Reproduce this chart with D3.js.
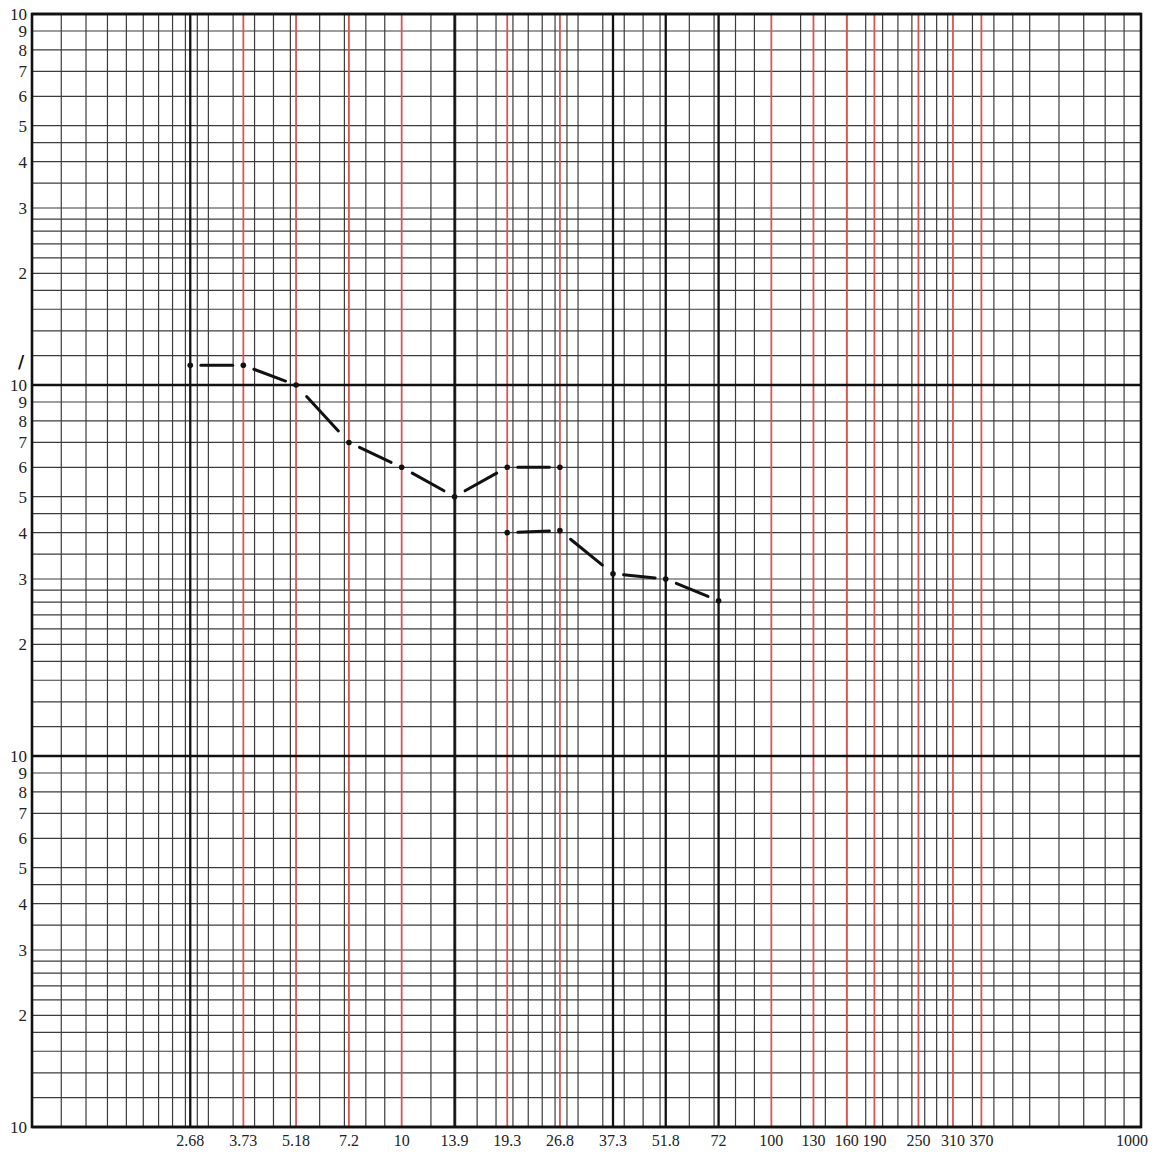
<!DOCTYPE html>
<html>
<head>
<meta charset="utf-8">
<script src="https://cdn.jsdelivr.net/npm/d3@7"></script>
<style>
  body { margin: 0; background: #fff; }
  text { font-family: "Liberation Serif", "DejaVu Serif", serif; fill: #222; }
</style>
</head>
<body>
<script>
// tick labels along the bottom (log scale, 1 .. 1000)
var xTickValues = [2.68, 3.73, 5.18, 7.2, 10, 13.9, 19.3, 26.8, 37.3, 51.8, 72, 100, 130, 160, 190, 250, 310, 370, 1000];
// which of those get a heavy black line and which a red one
var blackLines = [2.68, 13.9, 37.3, 51.8, 72];
var redLines = [3.73, 5.18, 7.2, 10, 19.3, 26.8, 100, 130, 160, 190, 250, 310, 370];

// graph paper rulings inside each decade
var mantissas = [1.2, 1.4, 1.6, 1.8, 2, 2.2, 2.4, 2.6, 2.8, 3, 3.5, 4, 4.5, 5, 6, 7, 8, 9];
var xDecades = [1, 10, 100];
var yDecades = [0.01, 0.1, 1];
var yLabelDigits = [2, 3, 4, 5, 6, 7, 8, 9];
var yDecadeEdges = [0.01, 0.1, 1, 10];

// hand drawn curves
var upperX = [2.68, 3.73, 5.18, 7.2, 10, 13.9, 19.3, 26.8];
var upperY = [1.13, 1.13, 1.0, 0.7, 0.6, 0.5, 0.6, 0.6];
var lowerX = [19.3, 26.8, 37.3, 51.8, 72];
var lowerY = [0.4, 0.405, 0.31, 0.3, 0.262];

var W = 1161, H = 1155;

var x = d3.scaleLog().domain([1, 1000]).range([32, 1141]);
var y = d3.scaleLog().domain([0.01, 10]).range([1127, 14]);

var svg = d3.select('body')
    .append('svg')
    .attr('width', W)
    .attr('height', H);

svg.append('rect').attr('width', W).attr('height', H).attr('fill', '#fff');

// build the minor rulings
var xMinor = [], yMinor = [];
xDecades.forEach(function (d) {
    mantissas.forEach(function (m) { xMinor.push(d * m); });
});
yDecades.forEach(function (d) {
    mantissas.forEach(function (m) { yMinor.push(d * m); });
});

var grid = svg.append('g');

grid.selectAll('.hminor')
    .data(yMinor)
    .enter().append('line')
    .attr('x1', x(1)).attr('x2', x(1000))
    .attr('y1', function (d) { return y(d); })
    .attr('y2', function (d) { return y(d); })
    .attr('stroke', '#3c3c3c')
    .attr('stroke-width', 1.2);

grid.selectAll('.vminor')
    .data(xMinor)
    .enter().append('line')
    .attr('y1', y(10)).attr('y2', y(0.01))
    .attr('x1', function (d) { return x(d); })
    .attr('x2', function (d) { return x(d); })
    .attr('stroke', '#3c3c3c')
    .attr('stroke-width', 1.2);

// red rulings
grid.selectAll('.vred')
    .data(redLines)
    .enter().append('line')
    .attr('y1', y(10)).attr('y2', y(0.01))
    .attr('x1', function (d) { return x(d); })
    .attr('x2', function (d) { return x(d); })
    .attr('stroke', '#db5550')
    .attr('stroke-width', 1.8);

// heavy black rulings
grid.selectAll('.vblack')
    .data(blackLines)
    .enter().append('line')
    .attr('y1', y(10)).attr('y2', y(0.01))
    .attr('x1', function (d) { return x(d); })
    .attr('x2', function (d) { return x(d); })
    .attr('stroke', '#111')
    .attr('stroke-width', 2.3);

grid.selectAll('.hdecade')
    .data(yDecadeEdges)
    .enter().append('line')
    .attr('x1', x(1)).attr('x2', x(1000))
    .attr('y1', function (d) { return y(d); })
    .attr('y2', function (d) { return y(d); })
    .attr('stroke', '#111')
    .attr('stroke-width', 2.3);

// frame
svg.append('rect')
    .attr('x', x(1)).attr('y', y(10))
    .attr('width', x(1000) - x(1))
    .attr('height', y(0.01) - y(10))
    .attr('fill', 'none')
    .attr('stroke', '#111')
    .attr('stroke-width', 2.6);

// y labels: 2..9 in each decade, "10" on every decade edge
var yLabels = [];
yDecades.forEach(function (d) {
    yLabelDigits.forEach(function (m) { yLabels.push({v: d * m, t: String(m)}); });
});
yDecadeEdges.forEach(function (d) { yLabels.push({v: d, t: '10'}); });

svg.selectAll('.ylab')
    .data(yLabels)
    .enter().append('text')
    .attr('x', 27)
    .attr('y', function (d) { return y(d.v); })
    .attr('dy', '0.35em')
    .attr('text-anchor', 'end')
    .style('font-size', '17px')
    .text(function (d) { return d.t; });

// x labels
svg.selectAll('.xlab')
    .data(xTickValues)
    .enter().append('text')
    .attr('x', function (d) { return d === 1000 ? x(d) - 9 : x(d); })
    .attr('y', 1146)
    .attr('text-anchor', 'middle')
    .style('font-size', '16px')
    .text(function (d) { return d; });

// the handwritten mark beside the middle "10"
svg.append('text')
    .attr('x', 21)
    .attr('y', y(1) - 17)
    .attr('text-anchor', 'middle')
    .style('font-family', 'DejaVu Sans, sans-serif')
    .style('font-size', '17px')
    .style('font-weight', 'bold')
    .style('fill', '#111')
    .text('/');

// draw a curve as one dash per interval plus a dot at each reading
function drawSeries(xs, ys) {
    var g = svg.append('g');
    for (let i = 0; i < xs.length - 1; i++) {
        var x0 = x(xs[i]), y0 = y(ys[i]), x1 = x(xs[i + 1]), y1 = y(ys[i + 1]);
        var f = 0.2;
        g.append('line')
            .attr('x1', x0 + (x1 - x0) * f)
            .attr('y1', y0 + (y1 - y0) * f)
            .attr('x2', x1 - (x1 - x0) * f)
            .attr('y2', y1 - (y1 - y0) * f)
            .attr('stroke', '#111')
            .attr('stroke-width', 3)
            .attr('stroke-linecap', 'round');
    }
    g.selectAll('circle')
        .data(xs)
        .enter().append('circle')
        .attr('cx', function (d) { return x(d); })
        .attr('cy', function (d, i) { return y(ys[i]); })
        .attr('r', 2.8)
        .attr('fill', '#111');
}

drawSeries(upperX, upperY);
drawSeries(lowerX, lowerY);
</script>
</body>
</html>
